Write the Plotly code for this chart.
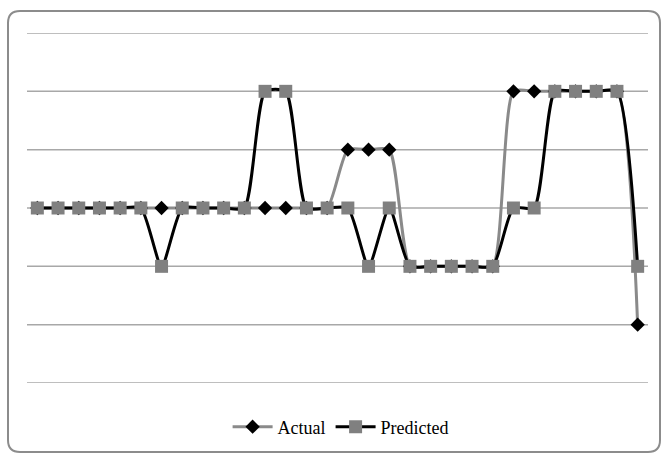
import plotly.graph_objects as go

categories = list(range(1, 31))
actual = [3, 3, 3, 3, 3, 3, 3, 3, 3, 3, 3, 3, 3, 3, 3, 4, 4, 4, 2, 2, 2, 2, 2, 5, 5, 5, 5, 5, 5, 1]
predicted = [3, 3, 3, 3, 3, 3, 2, 3, 3, 3, 3, 5, 5, 3, 3, 3, 2, 3, 2, 2, 2, 2, 2, 3, 3, 5, 5, 5, 5, 2]
y_grid = [0, 1, 2, 3, 4, 5, 6]

W, H = 662, 455
L, R, T, B = 27, 14, 33, 72
pw, ph = W - L - R, H - T - B

def px(x):
    return (x - L) / pw

def py(y):
    return (H - B - y) / ph

fig = go.Figure()
fig.add_trace(go.Scatter(
    x=categories, y=actual, name="Actual", mode="lines+markers",
    line=dict(color="#8a8a8a", width=3, shape="spline", smoothing=0.6),
    marker=dict(symbol="diamond", size=11, color="#000000"),
))
fig.add_trace(go.Scatter(
    x=categories, y=predicted, name="Predicted", mode="lines+markers",
    line=dict(color="#000000", width=3, shape="spline", smoothing=0.6),
    marker=dict(symbol="square", size=13, color="#808080"),
))

# gridlines drawn as shapes (so the ones on the plot edges show too)
for g in y_grid:
    fig.add_shape(type="line", xref="paper", yref="y", x0=0, x1=1, y0=g, y1=g,
                  line=dict(color="#a8a8a8", width=1.5), layer="below")

# rounded outer frame
x0, x1, y0, y1, r = 8, 660, 11, 452, 12
path = (f"M {px(x0+r)},{py(y0)} L {px(x1-r)},{py(y0)} Q {px(x1)},{py(y0)} {px(x1)},{py(y0+r)} "
        f"L {px(x1)},{py(y1-r)} Q {px(x1)},{py(y1)} {px(x1-r)},{py(y1)} "
        f"L {px(x0+r)},{py(y1)} Q {px(x0)},{py(y1)} {px(x0)},{py(y1-r)} "
        f"L {px(x0)},{py(y0+r)} Q {px(x0)},{py(y0)} {px(x0+r)},{py(y0)} Z")
fig.add_shape(type="path", xref="paper", yref="paper", path=path,
              line=dict(color="#8c8c8c", width=2), layer="below")

fig.update_layout(
    width=W, height=H,
    margin=dict(l=L, r=R, t=T, b=B, autoexpand=False),
    paper_bgcolor="white", plot_bgcolor="white",
    font=dict(family="Liberation Serif", size=15, color="#000000"),
    showlegend=True,
    legend=dict(orientation="h", x=0.505, xanchor="center", y=py(427), yanchor="middle",
                font=dict(family="Liberation Serif", size=18), itemwidth=40),
    xaxis=dict(range=[0.5, 30.5], showgrid=False, zeroline=False, showticklabels=False,
               showline=False, ticks=""),
    yaxis=dict(range=[0, 6], tickvals=y_grid, showgrid=False,
               zeroline=False, showticklabels=False, showline=False, ticks=""),
)
fig.write_html("out.html")
